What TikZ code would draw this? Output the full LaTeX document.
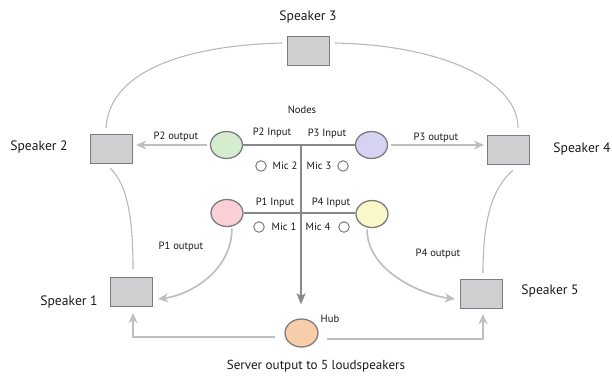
\documentclass[tikz,border=0pt]{standalone}
\usepackage{fontspec}
\setmainfont{PT Sans}
\usetikzlibrary{arrows.meta,calc,shapes.geometric}

\definecolor{boxfill}{HTML}{CFCFD2}
\definecolor{edge}{HTML}{7C7C7E}
\definecolor{wire}{HTML}{BFBFC1}
\definecolor{arcgray}{HTML}{B9B9BB}
\definecolor{busgray}{HTML}{88888A}
\definecolor{ngreen}{HTML}{D4EDCF}
\definecolor{npurple}{HTML}{D6D2F1}
\definecolor{npink}{HTML}{F8D0D5}
\definecolor{nyellow}{HTML}{FAF7C9}
\definecolor{npeach}{HTML}{F8CDA9}

\tikzset{
  speaker/.style={draw=edge, line width=1.2pt, fill=boxfill, minimum width=42pt, minimum height=29pt, inner sep=0pt},
  pnode/.style={draw=edge, line width=1.3pt, ellipse, minimum width=32pt, minimum height=27pt, inner sep=0pt},
  mic/.style={draw=edge, line width=1pt, fill=white, circle, minimum size=10.5pt, inner sep=0pt},
  biglabel/.style={font=\fontsize{13.6}{15}\selectfont, text=black!90},
  smalllabel/.style={font=\fontsize{10.6}{12}\selectfont, text=black!90},
  outarrow/.style={draw=wire, line width=1.7pt, -{Stealth[length=10pt,width=9pt,inset=3pt]}},
  ringline/.style={draw=arcgray, line width=1.1pt},
  bus/.style={draw=busgray, line width=1.5pt},
}

\begin{document}
\begin{tikzpicture}[x=1pt,y=-1pt]
\useasboundingbox (0,0) rectangle (612,376);

% loudspeakers
\node[speaker] (sp3) at (308.5,51) {};
\node[speaker] (sp2) at (111.5,149) {};
\node[speaker] (sp4) at (508.5,150) {};
\node[speaker] (sp1) at (131.5,292) {};
\node[speaker] (sp5) at (481.5,294) {};

\node[biglabel] (l3) at (308,17) {Speaker 3};
\node[biglabel] (l2) at (39,147) {Speaker 2};
\node[biglabel] (l4) at (582,149) {Speaker 4};
\node[biglabel] (l1) at (69,302) {Speaker 1};
\node[biglabel] (l5) at (550,291) {Speaker 5};

% participant nodes
\node[pnode, fill=ngreen]  (n2) at (226.5,145) {};
\node[pnode, fill=npurple] (n3) at (371.5,145) {};
\node[pnode, fill=npink]   (n1) at (227,213) {};
\node[pnode, fill=nyellow] (n4) at (372,214) {};

% hub
\node[draw=edge, line width=1.3pt, fill=npeach, ellipse, minimum width=33pt, minimum height=28pt, inner sep=0pt] (hub) at (301.5,333) {};
\node[smalllabel] (hubl) at (330,319) {Hub};
\node[biglabel, font=\fontsize{13.1}{15}\selectfont] (srv) at (316,366) {Server output to 5 loudspeakers};

\node[smalllabel] (nodesl) at (302,110) {Nodes};

% bus lines
\draw[bus] (n2.east) -- (n3.west);
\draw[bus] (n1.east |- 0,213) -- (n4.west |- 0,213);
\coordinate (bustop) at (301,145);
\draw[bus, -{Stealth[length=11pt,width=9pt,inset=2.5pt]}, shorten >=14pt] (bustop) -- (bustop |- hub.north);

% input labels
\node[smalllabel] (p2in) at (272,133) {P2 Input};
\node[smalllabel] (p3in) at (327,134) {P3 Input};
\node[smalllabel] (p1in) at (275,203) {P1 Input};
\node[smalllabel] (p4in) at (331,203) {P4 Input};

% microphones
\node[mic] (m2) at (261,166) {};
\node[smalllabel] (m2l) at (285,166) {Mic 2};
\node[smalllabel] (m3l) at (319,166) {Mic 3};
\node[mic] (m3) at (343,166) {};
\node[mic] (m1) at (259,227) {};
\node[smalllabel] (m1l) at (284,227) {Mic 1};
\node[smalllabel] (m4l) at (318,227) {Mic 4};
\node[mic] (m4) at (344,227) {};

% node outputs
\draw[outarrow, shorten <=3pt, shorten >=3pt] (n2.west) -- (n2.west -| sp2.east);
\node[smalllabel] (p2out) at (176,137) {P2 output};
\draw[outarrow, shorten <=3pt, shorten >=3pt] (n3.east) -- (n3.east -| sp4.west);
\node[smalllabel] (p3out) at (436,138) {P3 output};

\draw[outarrow] ([yshift=-2pt]n1.-70) .. controls +(0,42) and +(32,-4) .. ([xshift=5pt,yshift=-7pt]sp1.east);
\node[smalllabel] (p1out) at (181,247) {P1 output};
\draw[outarrow] ([yshift=-2pt]n4.-110) .. controls +(0,42) and +(-32,-4) .. ([xshift=-5pt,yshift=-5pt]sp5.west);
\node[smalllabel] (p4out) at (438,254) {P4 output};

% hub feeds
\draw[outarrow, shorten <=9pt, shorten >=6pt] ([yshift=-4pt]hub.west) -| (sp1.south -| 133,0);
\draw[outarrow, shorten <=8pt, shorten >=5pt] ([yshift=-6pt]hub.east) -| (sp5.south -| 483,0);

% ring between the loudspeakers
\draw[ringline] ([xshift=-5.5pt,yshift=6pt]sp2.north) .. controls (110,65) and (200,45) .. ([xshift=-5pt,yshift=8pt]sp3.west);
\draw[ringline] ([xshift=5pt,yshift=8pt]sp3.east) .. controls (440,45) and (518,80) .. ([xshift=9.5pt,yshift=7pt]sp4.north);
\draw[ringline] ([xshift=-1.5pt,yshift=-4pt]sp2.south) .. controls (128,185) and (133,220) .. ([xshift=1.5pt,yshift=8pt]sp1.north);
\draw[ringline] ([xshift=4.5pt,yshift=-5pt]sp4.south) .. controls (490,190) and (483,225) .. ([xshift=1.5pt,yshift=6pt]sp5.north);
\end{tikzpicture}
\end{document}
